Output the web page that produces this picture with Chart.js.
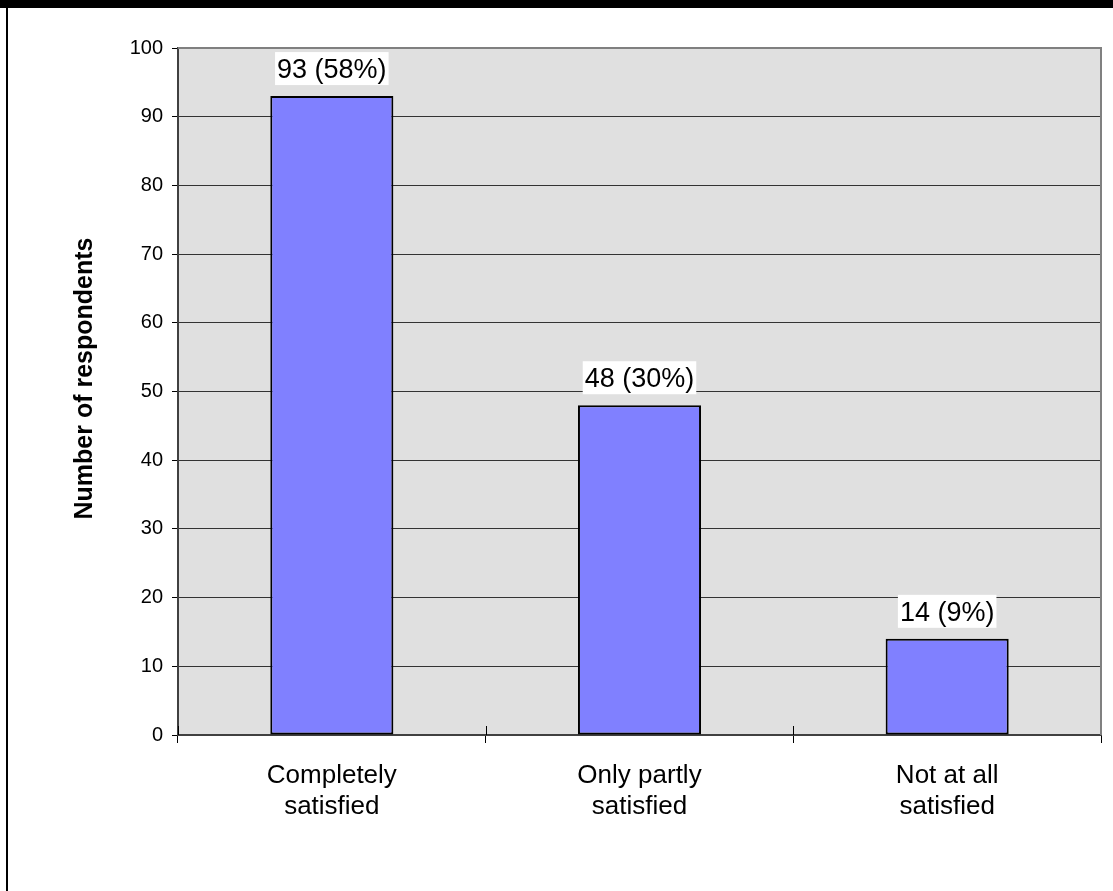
<!DOCTYPE html>
<html>
<head>
<meta charset="utf-8">
<title>Satisfaction of respondents</title>
<script src="https://cdn.jsdelivr.net/npm/chart.js@4.4.1/dist/chart.umd.min.js"></script>
<style>
  html, body { margin: 0; padding: 0; background: #ffffff; }
  #wrap { position: relative; width: 1113px; height: 891px; }
</style>
</head>
<body>
<div id="wrap"><canvas id="chart" width="1113" height="891"></canvas></div>
<script>
// Survey answers: how satisfied respondents were
const categories = [["Completely", "satisfied"], ["Only partly", "satisfied"], ["Not at all", "satisfied"]];
const respondents = [93, 48, 14];
const sharePercent = [58, 30, 9];
const yTicks = [0, 10, 20, 30, 40, 50, 60, 70, 80, 90, 100];
const yAxisTitle = 'Number of respondents';

const FONT = "'Liberation Sans', Arial, Helvetica, sans-serif";

// Grey plot background plus the frame on its top and right sides
const plotFrame = {
  id: 'plotFrame',
  beforeDraw(chart) {
    const { ctx, chartArea: a } = chart;
    ctx.save();
    ctx.fillStyle = '#e0e0e0';
    ctx.fillRect(a.left, a.top, a.right - a.left, a.bottom - a.top);
    ctx.restore();
  },
  afterDraw(chart) {
    const { ctx, chartArea: a } = chart;
    ctx.save();
    ctx.strokeStyle = '#808080';
    ctx.lineWidth = 2;
    ctx.beginPath();
    ctx.moveTo(a.left, a.top);
    ctx.lineTo(a.right, a.top);
    ctx.lineTo(a.right, a.bottom);
    ctx.stroke();
    // outer black edge of the picture
    ctx.fillStyle = '#000000';
    ctx.fillRect(0, 0, chart.width, 8);
    ctx.fillRect(6, 0, 2, chart.height);
    ctx.restore();
  }
};

// Rotated y-axis title, sitting slightly above the plot's middle
const axisTitle = {
  id: 'axisTitle',
  afterDraw(chart) {
    const { ctx, chartArea: a } = chart;
    ctx.save();
    ctx.translate(85, (a.top + a.bottom) / 2 - 13);
    ctx.rotate(-Math.PI / 2);
    ctx.font = 'bold 25px ' + FONT;
    ctx.fillStyle = '#000000';
    ctx.textAlign = 'center';
    ctx.textBaseline = 'middle';
    ctx.fillText(yAxisTitle, 0, 0);
    ctx.restore();
  }
};

// Category separators cross the x axis (upper half drawn here)
const crossTicks = {
  id: 'crossTicks',
  afterDatasetsDraw(chart) {
    const x = chart.scales.x;
    const { ctx, chartArea: a } = chart;
    const step = x.getPixelForValue(1) - x.getPixelForValue(0);
    ctx.save();
    ctx.strokeStyle = '#000000';
    ctx.lineWidth = 1;
    for (let i = 0; i <= categories.length; i++) {
      const px = Math.round(x.getPixelForValue(i) - step / 2) + 0.5;
      ctx.beginPath();
      ctx.moveTo(px, a.bottom - 9);
      ctx.lineTo(px, a.bottom);
      ctx.stroke();
    }
    ctx.restore();
  }
};

// "value (share%)" boxes above each bar
const valueLabels = {
  id: 'valueLabels',
  afterDatasetsDraw(chart) {
    const { ctx } = chart;
    const meta = chart.getDatasetMeta(0);
    ctx.save();
    ctx.font = '27px ' + FONT;
    ctx.textAlign = 'center';
    ctx.textBaseline = 'middle';
    meta.data.forEach((bar, i) => {
      const text = respondents[i] + ' (' + sharePercent[i] + '%)';
      const w = ctx.measureText(text).width + 4;
      const h = 33;
      const bottom = bar.y - 11;
      ctx.fillStyle = '#ffffff';
      ctx.fillRect(bar.x - w / 2, bottom - h, w, h);
      ctx.fillStyle = '#000000';
      ctx.fillText(text, bar.x, bottom - h / 2 + 2);
    });
    ctx.restore();
  }
};

new Chart(document.getElementById('chart'), {
  type: 'bar',
  data: {
    labels: categories,
    datasets: [{
      data: respondents,
      backgroundColor: '#8080ff',
      borderColor: '#000000',
      borderWidth: 2,
      borderSkipped: false,
      categoryPercentage: 1.0,
      barPercentage: 0.4
    }]
  },
  options: {
    responsive: false,
    animation: false,
    devicePixelRatio: 1,
    layout: { padding: { top: 48, right: 12, left: 0, bottom: 0 } },
    plugins: {
      legend: { display: false },
      tooltip: { enabled: false }
    },
    scales: {
      x: {
        grid: {
          offset: true,
          drawOnChartArea: false,
          drawTicks: true,
          tickLength: 8,
          color: '#000000',
          lineWidth: 1
        },
        border: { display: true, color: '#404040', width: 2 },
        ticks: {
          color: '#000000',
          font: { family: FONT, size: 26, lineHeight: 1.2 },
          padding: 17,
          maxRotation: 0,
          autoSkip: false
        },
        afterFit(scale) { scale.height = 156; }
      },
      y: {
        min: 0,
        max: 100,
        afterBuildTicks(scale) { scale.ticks = yTicks.map(v => ({ value: v })); },
        grid: {
          color: '#333333',
          lineWidth: 1,
          drawTicks: true,
          tickLength: 6,
          tickColor: '#000000'
        },
        border: { display: true, color: '#404040', width: 2 },
        ticks: {
          color: '#000000',
          font: { family: FONT, size: 20 },
          padding: 9
        },
        title: { display: false },
        afterFit(scale) { scale.width = 178; }
      }
    }
  },
  plugins: [plotFrame, axisTitle, crossTicks, valueLabels]
});
</script>
</body>
</html>
